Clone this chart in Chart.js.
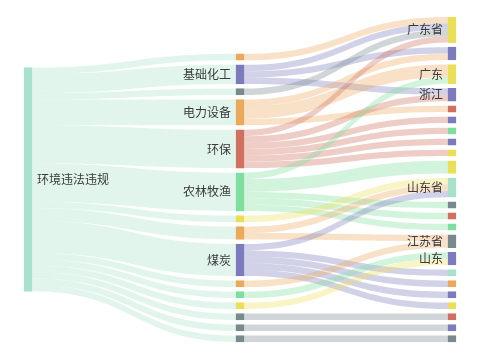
<!DOCTYPE html>
<html>
<head>
<meta charset="utf-8">
<script src="https://cdn.jsdelivr.net/npm/chart.js@4.4.1/dist/chart.umd.min.js"></script>
<style>
  html, body { margin: 0; padding: 0; background: #fff; }
</style>
</head>
<body>
<canvas id="sankey" width="480" height="360"></canvas>
<script>
// node labels per column ('' = no label shown)
var rootLabels = ['环境违法违规'];
var industryLabels = ['', '基础化工', '', '电力设备', '环保', '农林牧渔', '', '', '煤炭', '', '', '', '', '', ''];
var regionLabels = ['广东省', '', '广东', '浙江', '', '', '', '', '', '', '山东省', '', '', '', '江苏省', '山东', '', '', '', '', '', '', ''];

// root -> industry
var rootFlow = [1, 3, 1, 4, 6, 6, 1, 2, 5, 1, 1, 1, 1, 1, 1];

// industry -> region
var flowFrom  = [0, 1, 1, 1, 2, 3, 3, 3, 4, 4, 4, 4, 4, 4, 5, 5, 5,  5,  5,  6,  7,  7,  8,  8,  8,  8,  8,  9,  10, 11, 12, 13, 14];
var flowTo    = [0, 0, 1, 3, 0, 1, 2, 4, 0, 3, 5, 6, 7, 8, 2, 9, 11, 12, 13, 10, 10, 14, 10, 16, 17, 18, 19, 14, 15, 15, 20, 21, 22];
var flowValue = [1, 1, 1, 1, 1, 1, 2, 1, 1, 1, 1, 1, 1, 1, 1, 2, 1,  1,  1,  1,  1,  1,  1,  1,  1,  1,  1,  1,  1,  1,  1,  1,  1];

// colours
var Y = '#ecdf58', P = '#7b7bbd', O = '#eba95c', G = '#788a8c', R = '#d2705f', GR = '#7edf9f', LG = '#a9e2cc';
var rootColors = [LG];
var industryColors = [O, P, G, O, R, GR, Y, O, P, O, GR, Y, G, G, G];
var regionColors = [Y, P, Y, P, R, P, GR, P, Y, Y, LG, G, R, GR, G, P, LG, O, P, Y, R, P, G];

var GAP = 0.72;          // gap between nodes, in value units
var ALIGN = ['center', 'bottom', 'top'];

function hexA(hex, a) {
  var n = parseInt(hex.slice(1), 16);
  return 'rgba(' + (n >> 16) + ',' + ((n >> 8) & 255) + ',' + (n & 255) + ',' + a + ')';
}

// build nodes and links
var labelCols = [rootLabels, industryLabels, regionLabels];
var colorCols = [rootColors, industryColors, regionColors];
var nodes = [];
var colStart = [];
labelCols.forEach(function (labels, c) {
  colStart.push(nodes.length);
  labels.forEach(function (lab, i) {
    nodes.push({ col: c, label: lab, color: colorCols[c][i], value: 0, inV: 0, outV: 0, outs: [], ins: [] });
  });
});

var links = [];
function addLink(s, t, v) {
  var l = { source: s, target: t, value: v, sy: 0, ty: 0 };
  links.push(l);
  nodes[s].outs.push(l); nodes[t].ins.push(l);
  nodes[s].outV += v; nodes[t].inV += v;
}
rootFlow.forEach(function (v, i) { addLink(colStart[0], colStart[1] + i, v); });
flowFrom.forEach(function (f, k) { addLink(colStart[1] + f, colStart[2] + flowTo[k], flowValue[k]); });
nodes.forEach(function (n) { n.value = Math.max(n.inV, n.outV); });

// vertical stacking
var colHeights = labelCols.map(function (labels, c) {
  var h = 0;
  nodes.forEach(function (n) { if (n.col === c) h += n.value; });
  return h + (labels.length - 1) * GAP;
});
var yMax = Math.max.apply(null, colHeights);
labelCols.forEach(function (labels, c) {
  var off = ALIGN[c] === 'center' ? (yMax - colHeights[c]) / 2 : ALIGN[c] === 'bottom' ? yMax - colHeights[c] : 0;
  nodes.forEach(function (n) {
    if (n.col !== c) return;
    n.y0 = off; n.y1 = off + n.value; off = n.y1 + GAP;
  });
});
nodes.forEach(function (n) {
  var acc = 0;
  n.outs.sort(function (a, b) { return nodes[a.target].y0 - nodes[b.target].y0; });
  n.outs.forEach(function (l) { l.sy = acc; acc += l.value; });
  acc = 0;
  n.ins.sort(function (a, b) { return nodes[a.source].y0 - nodes[b.source].y0; });
  n.ins.forEach(function (l) { l.ty = acc; acc += l.value; });
});

var sankeyLinks = {
  id: 'sankeyLinks',
  beforeDatasetsDraw: function (chart) {
    var ctx = chart.ctx, ys = chart.scales.y, els = chart.getDatasetMeta(0).data;
    ctx.save();
    links.forEach(function (l) {
      var s = els[l.source], t = els[l.target];
      var sn = nodes[l.source], tn = nodes[l.target];
      var x1 = s.x + s.width / 2, x2 = t.x - t.width / 2, xm = (x1 + x2) / 2;
      var a0 = ys.getPixelForValue(sn.y0 + l.sy), a1 = ys.getPixelForValue(sn.y0 + l.sy + l.value);
      var b0 = ys.getPixelForValue(tn.y0 + l.ty), b1 = ys.getPixelForValue(tn.y0 + l.ty + l.value);
      ctx.beginPath();
      ctx.moveTo(x1, a0);
      ctx.bezierCurveTo(xm, a0, xm, b0, x2, b0);
      ctx.lineTo(x2, b1);
      ctx.bezierCurveTo(xm, b1, xm, a1, x1, a1);
      ctx.closePath();
      ctx.fillStyle = hexA(sn.color, 0.35);
      ctx.fill();
    });
    ctx.restore();
  },
  afterDatasetsDraw: function (chart) {
    var ctx = chart.ctx, els = chart.getDatasetMeta(0).data;
    ctx.save();
    ctx.font = '12px "Noto Sans CJK SC"';
    ctx.fillStyle = '#3a3a3a';
    ctx.textBaseline = 'middle';
    nodes.forEach(function (n, i) {
      if (!n.label) return;
      var el = els[i];
      var cy = (el.y + el.base) / 2;
      if (n.col === 0) {
        ctx.textAlign = 'left';
        ctx.fillText(n.label, el.x + el.width / 2 + 5, cy);
      } else {
        ctx.textAlign = 'right';
        ctx.fillText(n.label, el.x - el.width / 2 - 5, cy);
      }
    });
    ctx.restore();
  }
};

new Chart(document.getElementById('sankey'), {
  type: 'bar',
  data: {
    datasets: [{
      data: nodes.map(function (n) { return { x: n.col, y: [n.y0, n.y1] }; }),
      backgroundColor: nodes.map(function (n) { return n.color; }),
      borderColor: nodes.map(function (n) { return n.color; }),
      borderWidth: 1,
      borderSkipped: false,
      barThickness: 8,
      clip: false
    }]
  },
  options: {
    responsive: false,
    animation: false,
    layout: { padding: { left: 28, right: 28, top: 17, bottom: 18 } },
    scales: {
      x: { type: 'linear', min: 0, max: 2, offset: false, display: false },
      y: { type: 'linear', min: 0, max: yMax, reverse: true, display: false }
    },
    plugins: { legend: { display: false }, tooltip: { enabled: false } }
  },
  plugins: [sankeyLinks]
});
</script>
</body>
</html>
